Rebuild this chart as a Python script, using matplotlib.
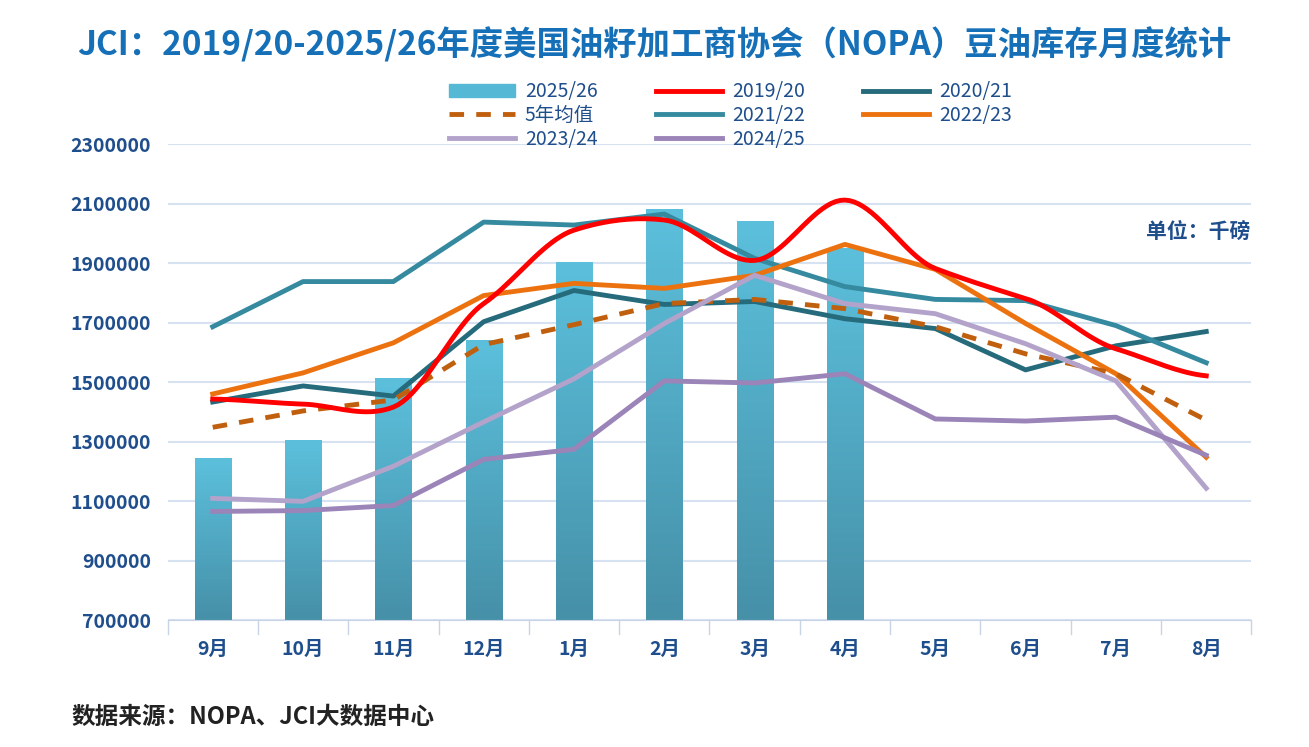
import numpy as np
import matplotlib.pyplot as plt
from matplotlib.patches import Patch
from matplotlib.lines import Line2D
from matplotlib.colors import LinearSegmentedColormap

plt.rcParams['font.family'] = ['Noto Sans CJK SC', 'DejaVu Sans']

months = ["9月", "10月", "11月", "12月", "1月", "2月", "3月", "4月", "5月", "6月", "7月", "8月"]
bars_2526 = [1244000, 1305000, 1514000, 1642000, 1903000, 2082000, 2041000, 1950000]
s1920 = [1443000, 1426000, 1416000, 1764000, 2011000, 2045000, 1909000, 2112000, 1882000, 1781000, 1612000, 1521000]
s2021 = [1433000, 1487000, 1453000, 1703000, 1808000, 1761000, 1771000, 1713000, 1680000, 1541000, 1622000, 1670000]
s2122 = [1686000, 1838000, 1838000, 2038000, 2028000, 2065000, 1916000, 1821000, 1778000, 1774000, 1690000, 1565000]
s2223 = [1460000, 1531000, 1632000, 1791000, 1832000, 1815000, 1859000, 1963000, 1879000, 1697000, 1528000, 1247000]
avg5 = [1348000, 1403000, 1440000, 1626000, 1693000, 1764000, 1778000, 1747000, 1686000, 1595000, 1528000, 1372000]
s2324 = [1109000, 1099000, 1217000, 1366000, 1511000, 1697000, 1859000, 1764000, 1730000, 1629000, 1504000, 1143000]
s2425 = [1065000, 1068000, 1085000, 1240000, 1274000, 1504000, 1497000, 1528000, 1376000, 1369000, 1382000, 1254000]
yticks = list(range(700000, 2300001, 200000))

blue = "#1f4e8c"


def smooth(y, n=20, tension=0.35):
    # cardinal spline through the points, for the smoothed red line
    y = np.asarray(y, float)
    p = np.concatenate([[y[0]], y, [y[-1]]])
    xs, ys = [], []
    for i in range(len(y) - 1):
        t = np.linspace(0, 1, n, endpoint=False)
        p0, p1, p2, p3 = p[i], p[i + 1], p[i + 2], p[i + 3]
        m1 = tension * (p2 - p0)
        m2 = tension * (p3 - p1)
        h00 = 2 * t ** 3 - 3 * t ** 2 + 1
        h10 = t ** 3 - 2 * t ** 2 + t
        h01 = -2 * t ** 3 + 3 * t ** 2
        h11 = t ** 3 - t ** 2
        xs.extend(i + t)
        ys.extend(h00 * p1 + h10 * m1 + h01 * p2 + h11 * m2)
    xs.append(len(y) - 1)
    ys.append(y[-1])
    return np.array(xs), np.array(ys)


fig = plt.figure(figsize=(13.09, 7.47), dpi=100)
ax = fig.add_axes([0.128, 0.170, 0.828, 0.637])
ax.set_yticks(yticks)
ax.set_yticklabels([str(v) for v in yticks])
ax.grid(axis='y', color='#d6e2f2', lw=1.5)
ax.set_axisbelow(True)
for s in ["top", "right", "left"]:
    ax.spines[s].set_visible(False)
ax.spines["bottom"].set_color("#c8d4e6")
ax.set_xticks(range(12))
ax.set_xticklabels(months)
ax.tick_params(axis='y', length=0, labelsize=14, labelcolor=blue, pad=12)
ax.tick_params(axis='x', length=0, labelsize=14, labelcolor=blue, pad=14)
for lab in ax.get_xticklabels() + ax.get_yticklabels():
    lab.set_fontweight('bold')
for k in range(13):
    ax.axvline(k - 0.5, ymin=-0.03, ymax=0, color="#c8d4e6", lw=1, clip_on=False)

# gradient bars
grad = np.linspace(0, 1, 256).reshape(-1, 1)
cmap = LinearSegmentedColormap.from_list("b", ["#4690a8", "#5cc0dc"])
bars = ax.bar(range(len(bars_2526)), np.array(bars_2526) - 700000, bottom=700000,
              width=0.4, color="#55b3cf", zorder=2)
for b in bars:
    x0, y0 = b.get_x(), b.get_y()
    im = ax.imshow(grad, extent=[x0, x0 + b.get_width(), y0, y0 + b.get_height()],
                   origin='lower', cmap=cmap, aspect='auto', zorder=2)
    im.set_clip_path(b)
ax.set_aspect('auto')
ax.set_xlim(-0.5, 11.5)
ax.set_ylim(700000, 2300000)

x = np.arange(12)
ax.plot(x, s2021, color="#256b7b", lw=3.5, zorder=3)
ax.plot(x, s2122, color="#358aa0", lw=3.5, zorder=3)
ax.plot(x, s2223, color="#ec7210", lw=3.5, zorder=3)
ax.plot(x, avg5, color="#c0600f", lw=3.5, ls=(0, (3, 2.5)), zorder=3)
ax.plot(x, s2324, color="#b3a3cb", lw=3.5, zorder=3)
ax.plot(x, s2425, color="#9a84b8", lw=3.5, zorder=3)
sx, sy = smooth(s1920)
ax.plot(sx, sy, color="#ff0000", lw=3.5, zorder=4)

handles = [
    Patch(color="#55b8d4"), Line2D([], [], color="#c0600f", lw=3.5, ls=(0, (3, 2.5))),
    Line2D([], [], color="#b3a3cb", lw=3.5),
    Line2D([], [], color="#ff0000", lw=3.5), Line2D([], [], color="#358aa0", lw=3.5),
    Line2D([], [], color="#9a84b8", lw=3.5),
    Line2D([], [], color="#256b7b", lw=3.5), Line2D([], [], color="#ec7210", lw=3.5),
]
labels = ["2025/26", "5年均值", "2023/24", "2019/20", "2021/22", "2024/25", "2020/21", "2022/23"]
leg = fig.legend(handles, labels, ncol=3, loc='center', bbox_to_anchor=(0.558, 0.845),
                 frameon=False, fontsize=14, handlelength=3.4, columnspacing=3.0,
                 labelspacing=0.15, handletextpad=0.5)
for t in leg.get_texts():
    t.set_color(blue)

fig.text(0.5, 0.94, "JCI：2019/20-2025/26年度美国油籽加工商协会（NOPA）豆油库存月度统计",
         ha='center', va='center', fontsize=24, fontweight='bold', color="#1670b8")
fig.text(0.955, 0.69, "单位：千磅", ha='right', va='center', fontsize=15,
         fontweight='bold', color=blue)
fig.text(0.055, 0.04, "数据来源：NOPA、JCI大数据中心", ha='left', va='center',
         fontsize=17, fontweight='bold', color="#222222")

fig.savefig("out.png", dpi=100)
